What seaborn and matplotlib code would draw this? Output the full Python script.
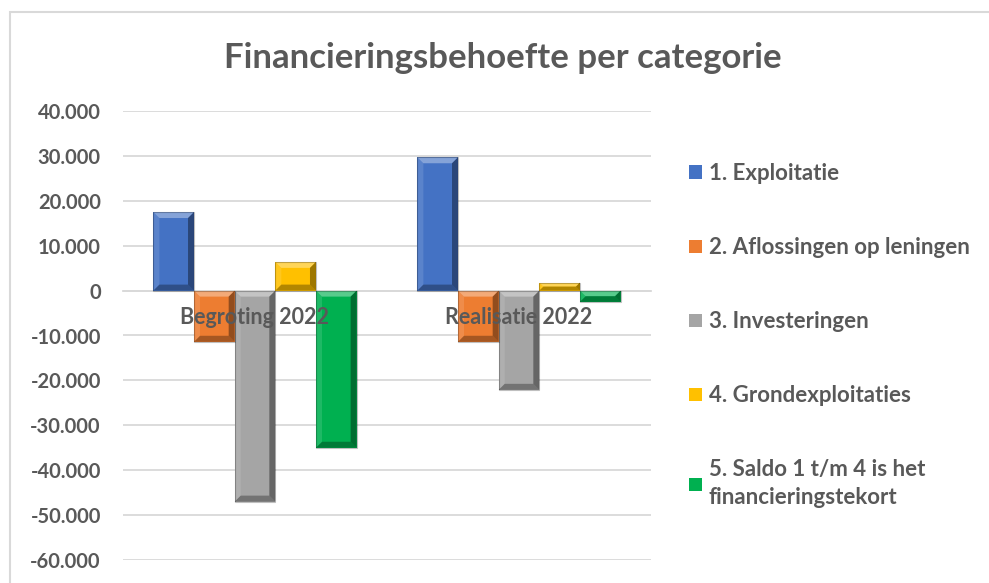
import matplotlib
matplotlib.use("Agg")
import matplotlib.pyplot as plt
from matplotlib.patches import Polygon, Rectangle
from matplotlib.ticker import FuncFormatter, MultipleLocator
import numpy as np
import pandas as pd
import seaborn as sns

# Categories on the x axis
categorieen = ["Begroting 2022", "Realisatie 2022"]

# Series (legend entries)
posten = [
    "1. Exploitatie",
    "2. Aflossingen op leningen",
    "3. Investeringen",
    "4. Grondexploitaties",
    "5. Saldo 1 t/m 4 is het\nfinancieringstekort",
]

# Values per series, one per category (x 1.000 euro)
exploitatie = [17500, 29700]
aflossingen = [-11400, -11400]
investeringen = [-47000, -22100]
grondexploitaties = [6400, 1800]
saldo = [-35000, -2500]

kleuren = ["#4472C4", "#ED7D31", "#A5A5A5", "#FFC000", "#00B050"]
tekstkleur = "#595959"
rasterkleur = "#D9D9D9"

reeksen = [exploitatie, aflossingen, investeringen, grondexploitaties, saldo]
df = pd.DataFrame(
    [
        {"categorie": cat, "post": post, "waarde": reeks[i]}
        for post, reeks in zip(posten, reeksen)
        for i, cat in enumerate(categorieen)
    ]
)

sns.set_theme(style="white")
plt.rcParams["font.family"] = ["Lato", "DejaVu Sans"]
plt.rcParams["font.weight"] = "bold"

fig = plt.figure(figsize=(9.89, 5.83), dpi=100)
ax = fig.add_axes([123 / 989, 1 - 560 / 583, (651 - 123) / 989, (560 - 111) / 583])

sns.barplot(
    data=df, x="categorie", y="waarde", hue="post",
    palette=kleuren, saturation=1, width=0.77, gap=0,
    order=categorieen, hue_order=posten, ax=ax, zorder=2,
    edgecolor="none", linewidth=0,
)

ax.set_ylim(-60000, 40000)
ax.set_xlim(-0.5, 1.5)
ax.yaxis.set_major_locator(MultipleLocator(10000))
ax.yaxis.set_major_formatter(FuncFormatter(lambda v, _: f"{v:,.0f}".replace(",", ".")))
ax.grid(axis="y", color=rasterkleur, linewidth=1.3, zorder=0)
ax.set_axisbelow(True)
for kant in ["top", "right", "left"]:
    ax.spines[kant].set_visible(False)
ax.spines["bottom"].set_position(("data", 0))
ax.spines["bottom"].set_color(rasterkleur)
ax.spines["bottom"].set_linewidth(1.3)
ax.spines["bottom"].set_zorder(1)
ax.set_xlabel("")
ax.set_ylabel("")
ax.tick_params(axis="y", length=0, pad=16, labelsize=14.5, labelcolor=tekstkleur)
ax.tick_params(axis="x", length=0, pad=12, labelsize=15.5, labelcolor=tekstkleur)
for lbl in ax.get_yticklabels() + ax.get_xticklabels():
    lbl.set_fontweight("bold")
for lbl in ax.get_xticklabels():
    lbl.set_zorder(10)
ax.xaxis.set_zorder(5)

# Bevelled edges on each bar
fig.canvas.draw()
inv = ax.transData.inverted()
bevel_px = 6.0
balken = [p for p in ax.patches if isinstance(p, Rectangle) and p.get_width() > 0]
for p in balken:
    x0, y0 = p.get_x(), p.get_y()
    x1, y1 = x0 + p.get_width(), y0 + p.get_height()
    if y1 < y0:
        y0, y1 = y1, y0
    (dx0, dy0) = ax.transData.transform((x0, y0))
    (dx1, dy1) = ax.transData.transform((x1, y1))
    b = min(bevel_px, (dy1 - dy0) / 2.0, (dx1 - dx0) / 2.0)
    bx = abs(inv.transform((dx0 + b, dy0))[0] - x0)
    by = abs(inv.transform((dx0, dy0 + b))[1] - y0)
    vlakken = [
        ([(x0, y1), (x1, y1), (x1 - bx, y1 - by), (x0 + bx, y1 - by)], "white", 0.35),
        ([(x0, y0), (x1, y0), (x1 - bx, y0 + by), (x0 + bx, y0 + by)], "black", 0.30),
        ([(x0, y0), (x0, y1), (x0 + bx, y1 - by), (x0 + bx, y0 + by)], "white", 0.12),
        ([(x1, y0), (x1, y1), (x1 - bx, y1 - by), (x1 - bx, y0 + by)], "black", 0.38),
    ]
    for pts, kleur, alfa in vlakken:
        ax.add_patch(Polygon(pts, closed=True, facecolor=kleur, alpha=alfa,
                             edgecolor="none", zorder=3))
    ax.add_patch(Rectangle((x0, y0), x1 - x0, y1 - y0, fill=False,
                           edgecolor="black", alpha=0.25, linewidth=0.8, zorder=3))

# Legend
handles, labels = ax.get_legend_handles_labels()
leg = ax.legend(
    handles, labels, loc="upper left", bbox_to_anchor=(1.034, 0.929),
    frameon=False, fontsize=16, labelspacing=2.39, handlelength=0.58,
    handleheight=0.53, handletextpad=0.32, labelcolor=tekstkleur,
)
for t in leg.get_texts():
    t.set_fontweight("bold")
    t.set_linespacing(1.4)

fig.suptitle("Financieringsbehoefte per categorie", x=0.508, y=1 - 58 / 583,
             va="center", fontsize=25, fontweight="bold", color=tekstkleur)

# Chart frame
fig.add_artist(Rectangle((10 / 989, -0.1), 1.1, 1.1 - 12 / 583,
                         transform=fig.transFigure, fill=False,
                         edgecolor=rasterkleur, linewidth=1.5))

fig.savefig("out.png", dpi=100)
